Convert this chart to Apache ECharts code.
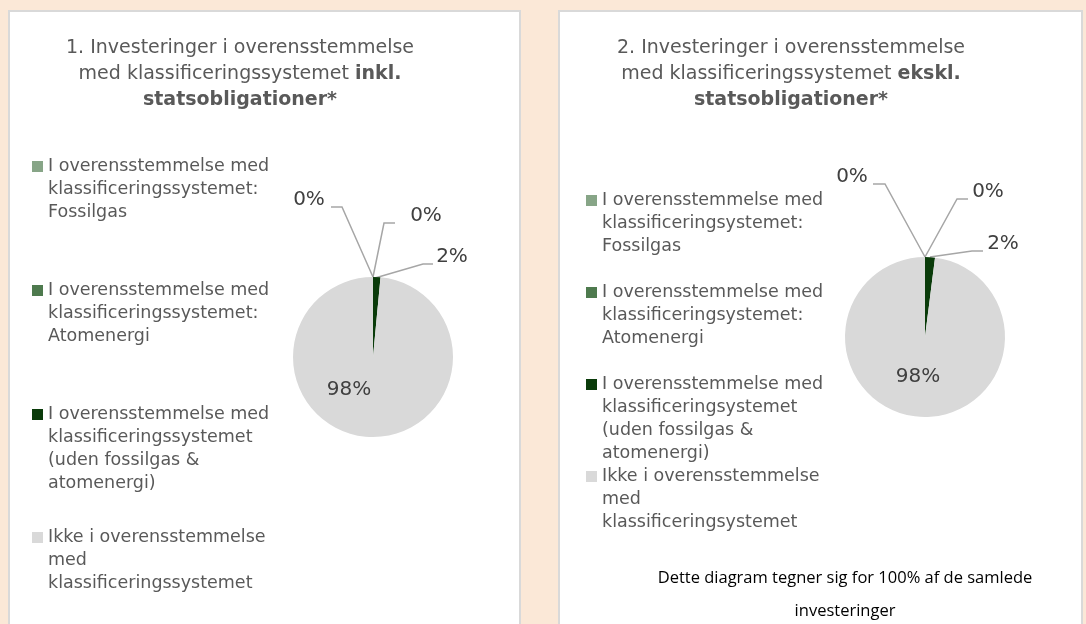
<!DOCTYPE html>
<html>
<head>
<meta charset="utf-8">
<script src="https://cdn.jsdelivr.net/npm/echarts@6/dist/echarts.min.js"></script>
<style>
    html, body {
        margin: 0;
        padding: 0;
        width: 1086px;
        height: 624px;
        overflow: hidden;
        background: #fbe8d7;
    }
    .panel {
        position: absolute;
        top: 10px;
        height: 640px;
        box-sizing: border-box;
        border: 2px solid #d9d9d9;
        background: #fff;
    }
    #p1 { left: 8px; width: 513px; }
    #p2 { left: 558px; width: 525px; }
    .chart { position: absolute; left: 0; top: 0; right: 0; bottom: 0; }
</style>
</head>
<body>
<div class="panel" id="p1"><div class="chart" id="c1"></div></div>
<div class="panel" id="p2"><div class="chart" id="c2"></div></div>
<script>
// data
var categories1 = [
    'I overensstemmelse med\nklassificeringssystemet:\nFossilgas',
    'I overensstemmelse med\nklassificeringssystemet:\nAtomenergi',
    'I overensstemmelse med\nklassificeringssystemet\n(uden fossilgas &\natomenergi)',
    'Ikke i overensstemmelse\nmed\nklassificeringssystemet'
];
var values1 = [0, 0, 1.5, 98.5];

var categories2 = [
    'I overensstemmelse med\nklassificeringsystemet:\nFossilgas',
    'I overensstemmelse med\nklassificeringsystemet:\nAtomenergi',
    'I overensstemmelse med\nklassificeringsystemet\n(uden fossilgas &\natomenergi)',
    'Ikke i overensstemmelse\nmed\nklassificeringsystemet'
];
var values2 = [0, 0, 2, 98];

var title1 = '1. Investeringer i overensstemmelse\nmed klassificeringssystemet {b|inkl.}\n{b|statsobligationer*}';
var title2 = '2. Investeringer i overensstemmelse\nmed klassificeringssystemet {b|ekskl.}\n{b|statsobligationer*}';
var note2 = 'Dette diagram tegner sig for 100% af de samlede\ninvesteringer';

var colors = ['#87a587', '#4e7a4e', '#0a3b0a', '#d9d9d9'];
var FONT = '"DejaVu Sans", sans-serif';
var LH = 23;
var SQ = 11;

// legend: one component per item so the spacing follows the picture.
// the icon box is as tall as the text, square drawn next to the first line
function buildLegends(names, left, lineTops) {
    return names.map(function (name, i) {
        var h = name.split('\n').length * LH;
        var y0 = LH / 2 - SQ / 2;
        var icon = 'path://M0,0L0.01,0M0,' + y0 + 'H' + SQ + 'V' + (y0 + SQ) + 'H0Z'
            + 'M0,' + h + 'L0.01,' + h;
        return {
            data: [name],
            orient: 'vertical',
            left: left,
            top: lineTops[i],
            padding: 0,
            icon: icon,
            itemWidth: SQ,
            itemHeight: h,
            selectedMode: false,
            textStyle: {
                fontFamily: FONT,
                fontSize: 17.5,
                color: '#595959',
                lineHeight: LH
            }
        };
    });
}

// label spots relative to pie centre
function labelLayoutFn(center, spots) {
    return function (p) {
        var s = spots[p.dataIndex];
        var res = {
            x: center[0] + s.text[0],
            y: center[1] + s.text[1],
            align: 'center',
            verticalAlign: 'middle'
        };
        if (s.line) {
            res.labelLinePoints = s.line.map(function (pt) {
                return [center[0] + pt[0], center[1] + pt[1]];
            });
        }
        return res;
    };
}

function buildOption(cfg) {
    var data = cfg.names.map(function (name, i) {
        var item = {name: name, value: cfg.values[i], itemStyle: {color: colors[i]}};
        if (i === 3) {
            item.labelLine = {show: false};
        }
        return item;
    });
    var titles = [{
        text: cfg.title,
        left: cfg.titleX,
        top: 23,
        textAlign: 'center',
        padding: 0,
        textStyle: {
            fontFamily: FONT,
            fontSize: 19,
            fontWeight: 'normal',
            color: '#595959',
            lineHeight: 26,
            rich: {
                b: {fontFamily: FONT, fontSize: 19, fontWeight: 'bold', color: '#595959', lineHeight: 26}
            }
        }
    }];
    if (cfg.note) {
        titles.push({
            text: cfg.note,
            left: cfg.noteX,
            top: 550,
            textAlign: 'center',
            padding: 0,
            textStyle: {
                fontFamily: '"Open Sans", sans-serif',
                fontSize: 16.5,
                fontWeight: 'normal',
                color: '#000',
                lineHeight: 33
            }
        });
    }
    return {
        animation: false,
        title: titles,
        legend: buildLegends(cfg.names, cfg.legendX, cfg.legendTops),
        series: [{
            type: 'pie',
            center: cfg.center,
            radius: 80,
            startAngle: 90,
            clockwise: true,
            avoidLabelOverlap: false,
            percentPrecision: 0,
            silent: true,
            emphasis: {disabled: true},
            itemStyle: {borderWidth: 0},
            label: {
                show: true,
                position: 'outside',
                formatter: '{d}%',
                fontFamily: FONT,
                fontSize: 20,
                color: '#404040'
            },
            labelLine: {
                show: true,
                lineStyle: {color: '#a6a6a6', width: 1.5}
            },
            labelLayout: labelLayoutFn(cfg.center, cfg.spots),
            data: data
        }]
    };
}

var chart1 = echarts.init(document.getElementById('c1'));
chart1.setOption(buildOption({
    names: categories1,
    values: values1,
    title: title1,
    titleX: 230,
    center: [363, 345],
    legendX: 22,
    legendTops: [143, 267, 391, 514],
    spots: [
        {text: [-64, -157], line: [[0, -80], [-31, -150], [-42, -150]]},
        {text: [53, -141], line: [[0, -80], [11, -134], [22, -134]]},
        {text: [79, -100], line: [[2, -79], [50, -93], [60, -93]]},
        {text: [-24, 33]}
    ]
}));

var chart2 = echarts.init(document.getElementById('c2'));
chart2.setOption(buildOption({
    names: categories2,
    values: values2,
    title: title2,
    titleX: 231,
    note: note2,
    noteX: 285,
    center: [365, 325],
    legendX: 26,
    legendTops: [177, 269, 361, 453],
    spots: [
        {text: [-73, -160], line: [[0, -80], [-40, -153], [-52, -153]]},
        {text: [63, -145], line: [[0, -80], [32, -138], [43, -138]]},
        {text: [78, -93], line: [[5, -80], [47, -86], [58, -86]]},
        {text: [-7, 40]}
    ]
}));
</script>
</body>
</html>
